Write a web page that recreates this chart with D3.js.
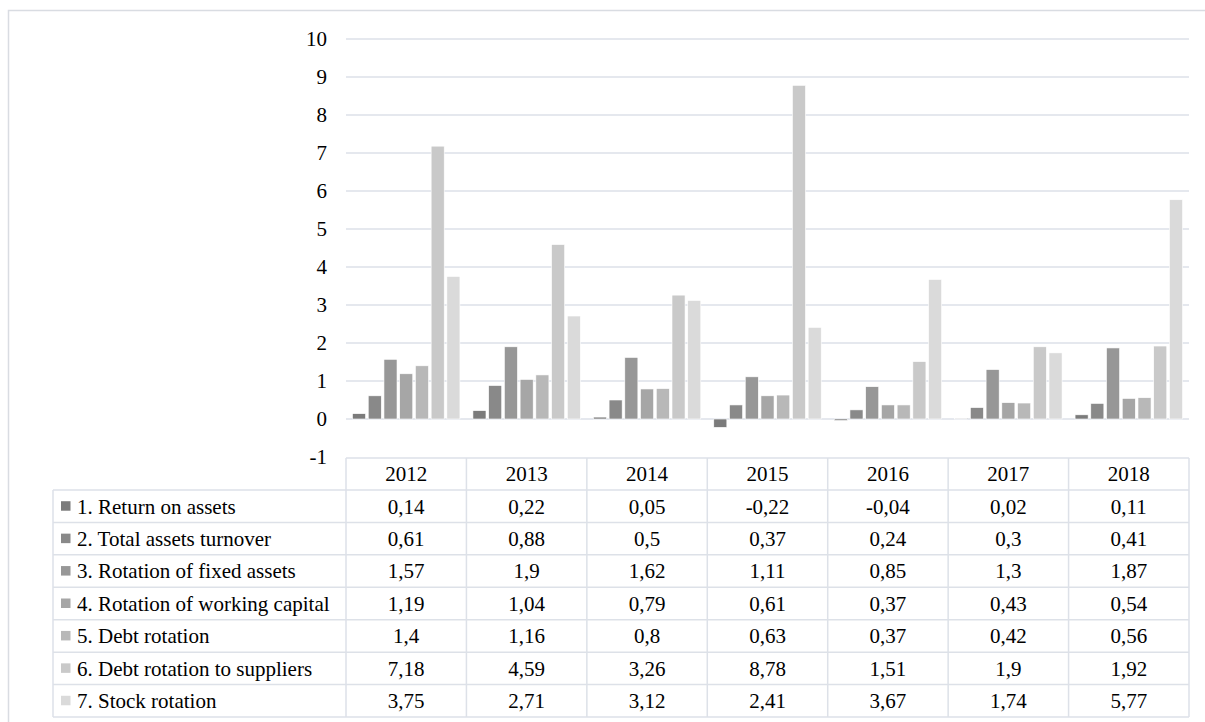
<!DOCTYPE html>
<html>
<head>
<meta charset="utf-8">
<script src="https://cdn.jsdelivr.net/npm/d3@7"></script>
<style>
  html, body { margin: 0; padding: 0; background: #fff; }
  svg { display: block; }
</style>
</head>
<body>
<svg id="chart" width="1205" height="722"></svg>
<script>
// Years shown along the category axis
const years = ["2012", "2013", "2014", "2015", "2016", "2017", "2018"];

// Indicator names (legend / table row headers)
const seriesNames = [
  "1. Return on assets",
  "2. Total assets turnover",
  "3. Rotation of fixed assets",
  "4. Rotation of working capital",
  "5. Debt rotation",
  "6. Debt rotation to suppliers",
  "7. Stock rotation"
];

// Values per indicator, one per year
const returnOnAssets       = [0.14, 0.22, 0.05, -0.22, -0.04, 0.02, 0.11];
const totalAssetsTurnover  = [0.61, 0.88, 0.5, 0.37, 0.24, 0.3, 0.41];
const rotationFixedAssets  = [1.57, 1.9, 1.62, 1.11, 0.85, 1.3, 1.87];
const rotationWorkingCap   = [1.19, 1.04, 0.79, 0.61, 0.37, 0.43, 0.54];
const debtRotation         = [1.4, 1.16, 0.8, 0.63, 0.37, 0.42, 0.56];
const debtRotationSuppl    = [7.18, 4.59, 3.26, 8.78, 1.51, 1.9, 1.92];
const stockRotation        = [3.75, 2.71, 3.12, 2.41, 3.67, 1.74, 5.77];

const seriesValues = [
  returnOnAssets, totalAssetsTurnover, rotationFixedAssets,
  rotationWorkingCap, debtRotation, debtRotationSuppl, stockRotation
];

// Value axis ticks
const yTicks = [-1, 0, 1, 2, 3, 4, 5, 6, 7, 8, 9, 10];

const colors = ["#7b7b7b", "#898989", "#979797", "#a6a6a6", "#b8b8b8", "#c9c9c9", "#dadada"];
const lineColor = "#dde1e8";
const fontSize = 21;
const fontFamily = "'Liberation Serif', 'Times New Roman', 'DejaVu Serif', serif";

const svg = d3.select("#chart")
  .attr("font-family", fontFamily)
  .style("font-family", fontFamily);

// outer frame
svg.append("rect")
  .attr("x", 8.5).attr("y", 10.5)
  .attr("width", 1200).attr("height", 720)
  .attr("fill", "none").attr("stroke", "#d9dce2").attr("stroke-width", 1.5);

const plotLeft = 346, plotRight = 1189;
const tableLeft = 53;

const x0 = d3.scaleBand().domain(years).range([plotLeft, plotRight]);
const colW = x0.bandwidth();
const x1 = d3.scaleBand().domain(d3.range(seriesNames.length))
  .range([6.5, colW - 6.5]).paddingInner(0.17).paddingOuter(0);
const y = d3.scaleLinear().domain([-1, 10]).range([457, 39]);

// horizontal gridlines (0..10)
svg.append("g").selectAll("line")
  .data(yTicks.filter(t => t >= 0))
  .join("line")
  .attr("x1", plotLeft).attr("x2", plotRight)
  .attr("y1", d => y(d)).attr("y2", d => y(d))
  .attr("stroke", lineColor).attr("stroke-width", 1.5);

// tick labels
svg.append("g").selectAll("text")
  .data(yTicks)
  .join("text")
  .attr("x", 327).attr("y", d => y(d))
  .attr("dy", "0.35em")
  .attr("text-anchor", "end")
  .attr("font-size", fontSize)
  .text(d => d);

// bars
const groups = svg.append("g").selectAll("g")
  .data(years)
  .join("g")
  .attr("transform", d => `translate(${x0(d)},0)`);

groups.selectAll("rect")
  .data((d, yi) => seriesValues.map((vals, si) => ({ si, v: vals[yi] })))
  .join("rect")
  .attr("x", d => x1(d.si))
  .attr("width", x1.bandwidth())
  .attr("y", d => y(Math.max(0, d.v)))
  .attr("height", d => Math.abs(y(d.v) - y(0)))
  .attr("fill", d => colors[d.si])
  .attr("stroke", "#fff").attr("stroke-width", 0.6);

// data table
const headerTop = 458, headerBottom = 490, tableBottom = 717;
const rowH = (tableBottom - headerBottom) / seriesNames.length;
const table = svg.append("g");
const fmt = v => String(v).replace(".", ",");

// header row
table.selectAll("text.year")
  .data(years)
  .join("text")
  .attr("class", "year")
  .attr("x", d => x0(d) + colW / 2)
  .attr("y", (headerTop + headerBottom) / 2)
  .attr("dy", "0.35em")
  .attr("text-anchor", "middle")
  .attr("font-size", fontSize)
  .text(d => d);

// rows
seriesNames.forEach((name, si) => {
  const cy = headerBottom + rowH * si + rowH / 2;
  table.append("rect")
    .attr("x", 61).attr("y", cy - 5)
    .attr("width", 9.5).attr("height", 9.5)
    .attr("fill", colors[si]);
  table.append("text")
    .attr("x", 77).attr("y", cy)
    .attr("dy", "0.35em")
    .attr("font-size", fontSize)
    .text(name);
  table.selectAll(null)
    .data(years)
    .join("text")
    .attr("x", d => x0(d) + colW / 2)
    .attr("y", cy)
    .attr("dy", "0.35em")
    .attr("text-anchor", "middle")
    .attr("font-size", fontSize)
    .text((d, yi) => fmt(seriesValues[si][yi]));
});

// table grid lines
const hLines = [{ y: headerTop, x1: plotLeft }]
  .concat(d3.range(seriesNames.length + 1).map(i => ({ y: headerBottom + rowH * i, x1: tableLeft })));
table.selectAll("line.h")
  .data(hLines)
  .join("line")
  .attr("x1", d => d.x1).attr("x2", plotRight)
  .attr("y1", d => d.y).attr("y2", d => d.y)
  .attr("stroke", lineColor).attr("stroke-width", 1.5);

const vLines = [{ x: tableLeft, y1: headerBottom }]
  .concat(years.map(d => ({ x: x0(d), y1: headerTop })))
  .concat([{ x: plotRight, y1: headerTop }]);
table.selectAll("line.v")
  .data(vLines)
  .join("line")
  .attr("x1", d => d.x).attr("x2", d => d.x)
  .attr("y1", d => d.y1).attr("y2", tableBottom)
  .attr("stroke", lineColor).attr("stroke-width", 1.5);
</script>
</body>
</html>
